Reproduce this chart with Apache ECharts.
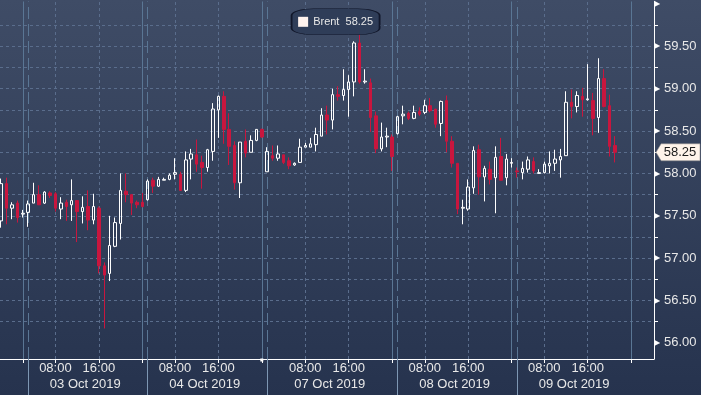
<!DOCTYPE html>
<html><head><meta charset="utf-8">
<script src="https://cdn.jsdelivr.net/npm/echarts@6/dist/echarts.min.js"></script>
<style>html,body{margin:0;padding:0;background:#27344f}#c{width:701px;height:395px}</style>
</head><body><div id="c"></div>
<script>
// ---- data ----
const seriesName = 'Brent';
const dayLabels = ['02 Oct 2019', '03 Oct 2019', '04 Oct 2019', '07 Oct 2019', '08 Oct 2019', '09 Oct 2019'];
const dayFirstHour = [20, 3, 3, 1, 3, 3];
const dayLastHour = [24, 24, 24, 24, 24, 24];
const timeLabelHours = [8, 16];
const yTickStep = 0.25;
const yLabelStep = 0.5;
const opens = [57.44,57.88,57.59,57.65,57.52,57.54,57.65,57.75,57.65,57.77,57.76,57.58,57.66,57.63,57.68,57.55,57.61,57.45,57.59,56.91,
 56.82,57.14,57.41,57.79,57.75,57.66,57.66,57.69,57.92,57.85,57.92,57.93,57.99,57.99,57.80,58.17,58.22,58.13,58.07,58.26,
 58.75,58.91,58.52,58.33,57.89,58.38,58.25,58.39,58.52,58.02,58.21,58.18,58.22,58.15,58.10,58.13,58.31,58.31,58.34,58.44,
 58.69,58.63,58.93,58.92,58.99,59.08,59.54,59.08,59.07,58.68,58.29,58.43,58.43,58.47,58.68,58.71,58.65,58.73,58.72,58.80,
 58.76,58.59,58.86,58.38,58.12,57.59,57.58,57.83,58.28,57.96,58.05,57.95,58.20,57.95,58.12,58.03,58.01,58.05,58.14,58.00,
 58.01,58.09,58.12,58.16,58.21,58.84,58.79,58.91,58.87,58.86,58.66,59.12,58.80,58.33];
const closes = [57.88,57.59,57.63,57.48,57.53,57.64,57.75,57.63,57.78,57.74,57.59,57.65,57.61,57.68,57.55,57.60,57.45,57.61,56.91,56.80,
 57.15,57.42,57.80,57.75,57.65,57.63,57.61,57.91,57.85,57.93,57.93,57.98,58.01,57.80,58.16,58.23,58.11,58.07,58.28,58.76,
 58.91,58.52,58.32,57.89,58.37,58.24,58.39,58.52,58.43,58.26,58.18,58.23,58.13,58.09,58.12,58.31,58.33,58.35,58.46,58.69,
 58.63,58.93,58.91,58.99,59.08,59.54,59.08,59.09,58.66,58.29,58.43,58.44,58.20,58.67,58.70,58.65,58.72,58.70,58.80,58.74,
 58.58,58.85,58.38,58.12,57.58,57.60,57.84,58.27,57.96,58.06,57.93,58.19,57.92,58.17,58.13,58.02,58.06,58.16,58.03,58.01,
 58.11,58.12,58.17,58.20,58.84,58.79,58.92,58.87,58.88,58.65,59.12,58.79,58.32,58.25];
const lows = [57.36,57.40,57.46,57.42,57.48,57.37,57.65,57.63,57.64,57.71,57.55,57.46,57.44,57.44,57.19,57.41,57.33,57.40,56.82,56.17,
 56.73,57.13,57.22,57.66,57.51,57.59,57.60,57.68,57.77,57.84,57.92,57.92,57.93,57.80,57.78,57.93,58.02,57.82,58.02,58.15,
 58.42,58.35,58.10,57.81,57.71,58.19,58.25,58.38,58.42,58.02,58.15,58.15,58.11,58.05,58.09,58.13,58.31,58.31,58.26,58.44,
 58.46,58.52,58.86,58.86,58.67,58.91,59.06,59.06,58.49,58.24,58.26,58.31,58.03,58.46,58.58,58.63,58.64,58.68,58.70,58.72,
 58.54,58.44,58.25,58.07,57.52,57.40,57.56,57.76,57.75,57.67,57.87,57.53,57.92,57.86,58.07,57.95,57.93,58.01,58.00,58.00,
 58.00,58.00,58.03,57.95,58.21,58.65,58.72,58.67,58.86,58.45,58.48,58.78,58.20,58.13];
const highs = [57.94,57.95,57.66,57.68,57.57,57.68,57.89,57.86,57.79,57.79,57.78,57.72,57.69,57.93,57.68,57.73,57.80,57.76,57.61,56.95,
 57.50,57.48,58.00,58.00,57.75,57.68,57.77,57.93,57.95,57.96,57.95,58.00,58.18,58.02,58.26,58.29,58.40,58.21,58.29,58.83,
 58.92,58.97,58.71,58.38,58.37,58.52,58.45,58.52,58.53,58.31,58.33,58.33,58.22,58.19,58.13,58.41,58.36,58.42,58.54,58.77,
 58.80,59.00,59.03,59.23,59.16,59.56,59.66,59.23,59.12,58.73,58.60,58.54,58.46,58.68,58.80,58.73,58.80,58.78,58.87,58.89,
 58.76,58.86,58.92,58.44,58.12,57.69,57.93,58.32,58.34,58.09,58.14,58.32,58.42,58.23,58.18,58.07,58.14,58.20,58.19,58.05,
 58.14,58.26,58.28,58.29,58.97,58.99,58.97,59.01,59.29,58.95,59.36,59.23,58.93,58.44];

// ---- derived ----
const slots = [];
dayLabels.forEach((d, i) => { for (let h = dayFirstHour[i]; h <= dayLastHour[i]; h++) slots.push({ day: i, hour: h }); });
const dayStart = dayLabels.map((_, i) => slots.findIndex(s => s.day === i));
const dayEnd = dayLabels.map((_, i) => { let k = -1; slots.forEach((s, j) => { if (s.day === i) k = j; }); return k; });
const timeIdx = slots.map((s, i) => timeLabelHours.includes(s.hour) ? i : -1).filter(i => i >= 0);
const labelDays = dayLabels.map((_, i) => i).filter(i => timeIdx.some(t => slots[t].day === i));
const dateIdx = labelDays.map(i => (dayStart[i] + dayEnd[i]) / 2);
const weekendEnds = dayLabels.map((d, i) => i).filter(i => i + 1 < dayLabels.length && parseInt(dayLabels[i + 1]) - parseInt(dayLabels[i]) > 1).map(i => dayEnd[i]);
const candles = opens.map((o, i) => [i, o, closes[i], lows[i], highs[i]]);
const lastClose = closes[closes.length - 1];
let maxI = 0; highs.forEach((h, i) => { if (h > highs[maxI]) maxI = i; });

const xMin = -0.2, xMax = 120.2, yMin = 55.81, yMax = 60.03;
const yQuarter = [];
for (let k = Math.ceil(yMin / yTickStep); k * yTickStep <= yMax; k++) yQuarter.push(+(k * yTickStep).toFixed(2));
const FONT = 'Liberation Sans';
const gridCol = '#5a6d8c', vCol = '#5a7694';
const pad2 = n => (n < 10 ? '0' : '') + n;

const vLines = [
  ...dayEnd.map(i => ({ xAxis: i, lineStyle: { type: 'solid', color: vCol, width: 1 } })),
  ...dayStart.slice(1).map(i => ({ xAxis: i, lineStyle: { type: [12, 5], color: vCol, width: 1 } })),
  ...timeIdx.map(i => ({ xAxis: i, lineStyle: { type: [3, 3], color: gridCol, width: 1 } }))
];

const chart = echarts.init(document.getElementById('c'), null, { renderer: 'canvas' });
chart.setOption({
  animation: false,
  backgroundColor: { type: 'linear', x: 0, y: 0, x2: 0, y2: 1, colorStops: [{ offset: 0, color: '#3f4c66' }, { offset: 1, color: '#26334e' }] },
  textStyle: { fontFamily: FONT },
  grid: { left: 0, right: 47, top: 0, bottom: 36, containLabel: false },
  xAxis: [
    { type: 'value', min: xMin, max: xMax, position: 'bottom',
      axisLine: { show: true, onZero: false, lineStyle: { color: '#ffffff', width: 1 } },
      axisTick: { show: true, customValues: timeIdx.concat(dayEnd), length: 4, lineStyle: { color: '#ffffff' } },
      axisLabel: { customValues: timeIdx, formatter: v => pad2(slots[Math.round(v)].hour) + ':00', margin: 3, color: '#e8e8e8', fontSize: 13, fontFamily: FONT },
      splitLine: { show: false } },
    { type: 'value', min: xMin, max: xMax, position: 'bottom', offset: 16,
      axisLine: { show: false, onZero: false }, axisTick: { show: false }, splitLine: { show: false },
      axisLabel: { customValues: dateIdx, formatter: v => { const i = labelDays.find(d => dayStart[d] <= v && v <= dayEnd[d]); return dayLabels[i]; }, margin: 3, color: '#e8e8e8', fontSize: 13, fontFamily: FONT } },
    { type: 'value', min: xMin, max: xMax, position: 'bottom', offset: 0,
      axisLine: { show: false, onZero: false }, axisLabel: { show: false }, splitLine: { show: false },
      axisTick: { show: true, customValues: dayStart.slice(1), length: 36, lineStyle: { color: '#7e97b3' } } }
  ],
  yAxis: {
    type: 'value', position: 'right', min: yMin, max: yMax, splitNumber: 8,
    axisLine: { show: true, onZero: false, lineStyle: { color: '#ffffff', width: 1 } },
    axisTick: { show: true, customValues: yQuarter, length: 4, lineStyle: { color: '#ffffff' } },
    minorTick: { show: false },
    splitLine: { show: true, showMinLine: false, showMaxLine: false, lineStyle: { color: gridCol, type: [3, 3], width: 1 } },
    axisLabel: {
      margin: 0, showMinLabel: false, showMaxLabel: false,
      formatter: v => {
        if (Math.abs(v / yLabelStep - Math.round(v / yLabelStep)) > 1e-6) return '';
        return v < yMax - 0.1 ? '{t|▶}{v|' + v.toFixed(2) + '}' : '{t|▶}';
      },
      rich: {
        t: { fontSize: 8, color: '#ffffff', width: 10, fontFamily: 'DejaVu Sans', verticalAlign: 'middle' },
        v: { fontSize: 13, color: '#e8e8e8', fontFamily: FONT, verticalAlign: 'middle' }
      }
    }
  },
  series: [{
    name: seriesName, type: 'candlestick', xAxisIndex: 0, yAxisIndex: 0, z: 2,
    data: candles, barWidth: 3,
    itemStyle: { color: 'rgba(0,0,0,0)', color0: '#c8163e', borderColor: '#ffffff', borderColor0: '#c8163e', borderWidth: 1 },
    markLine: { z: 1, silent: true, symbol: ['none', 'none'], label: { show: false }, animation: false, data: vLines },
    markPoint: {
      z: 6, silent: true, animation: false,
      data: [
        { coord: [maxI, highs[maxI]], symbol: 'roundRect', symbolSize: [88, 26], symbolOffset: [-24, -11],
          itemStyle: { color: '#2f3d58', borderColor: '#11172a', borderWidth: 1 },
          label: { show: true, position: 'inside', formatter: () => '{sq|}{t|' + seriesName + '  ' + lastClose.toFixed(2) + '}',
            rich: { sq: { width: 10, height: 10, backgroundColor: '#fff3ee' }, t: { padding: [0, 0, 0, 5], fontSize: 11, color: '#e8e8e8', fontFamily: FONT } } } },
        { coord: [xMax, lastClose], symbol: 'path://M0,8 L5,0 L43,0 L43,16 L5,16 Z', symbolSize: [44, 17], symbolOffset: [24, 0], symbolKeepAspect: false,
          itemStyle: { color: '#fff4ea', borderColor: '#8a8a8a', borderWidth: 0.5 },
          label: { show: true, position: 'inside', offset: [2, 0], formatter: () => lastClose.toFixed(2), fontSize: 13, color: '#1b1b1b', fontFamily: FONT } },
        ...weekendEnds.map(i => ({ coord: [i, yMin], symbol: 'rect', symbolSize: [3, 3], symbolOffset: [0, 1], itemStyle: { color: '#ffffff' }, label: { show: false } }))
      ]
    }
  }]
});
</script></body></html>
